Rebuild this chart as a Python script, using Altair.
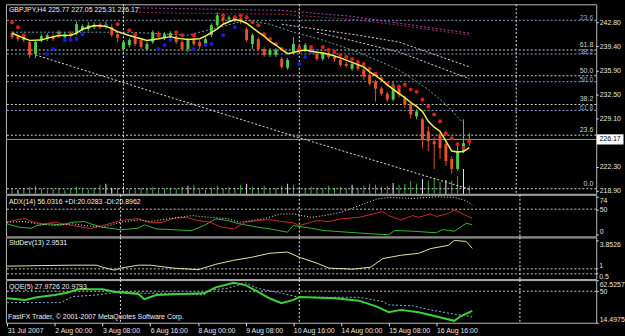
import altair as alt
import pandas as pd

FONT = "Liberation Sans"
WIDTH = 595
H_MAIN, H_ADX, H_SD, H_QQE = 191, 42, 42, 43
X_DOMAIN = [-0.2, 98.8]

# ---------------- text ----------------
title_main = "GBPJPY,H4 225.77 227.05 225.31 226.17"
title_adx = "ADX(14) 56.0316 +DI:20.0283 -DI:20.8962"
title_sd = "StdDev(13) 2.9531"
title_qqe = "QQE(5) 27.9726 20.9793"
copyright_txt = "FastFX Trader, \u00a9 2001-2007 MetaQuotes Software Corp."

time_ticks = [0, 8, 16, 24, 32, 40, 48, 56, 64, 72]
time_labels = ["31 Jul 2007", "2 Aug 00:00", "3 Aug 08:00", "6 Aug 16:00", "8 Aug 00:00",
               "9 Aug 08:00", "10 Aug 16:00", "14 Aug 00:00", "15 Aug 08:00", "16 Aug 16:00"]

price_ticks = [242.80, 239.40, 235.90, 232.50, 229.10, 222.30, 218.90]
adx_ticks = [74, 50, 0]
sd_ticks = [3.8526]
sd_levels = [1, 0.5]
sd_level_text = ["1", "0.5"]
qqe_ticks = [62.5257, 50, 14.4975]

# ---------------- OHLC (H4 bars) ----------------
opens = [241.25, 240.83, 240.27, 239.99, 238.30, 240.27, 240.41, 240.83, 240.83, 240.69,
         241.25, 241.25, 241.82, 241.82, 242.10, 242.52, 242.10, 242.10, 241.11, 239.00,
         239.57, 240.69, 240.27, 239.00, 239.99, 241.25, 240.55, 240.83, 240.83, 239.99,
         239.00, 240.27, 239.99, 239.57, 240.97, 242.38, 243.50, 243.22, 243.08, 243.36,
         241.82, 239.71, 240.41, 239.00, 238.16, 238.16, 237.60, 236.33, 238.58, 239.42,
         238.86, 239.14, 238.58, 237.60, 238.30, 237.88, 237.46, 236.89, 236.19, 236.75,
         236.05, 235.35, 234.36, 233.38, 232.67, 231.83, 233.66, 232.11, 231.13, 229.44,
         229.02, 227.33, 225.92, 226.91, 225.50, 223.39, 221.98, 224.52, 225.77]
highs = [241.53, 241.11, 240.97, 240.27, 240.27, 241.11, 241.25, 241.11, 241.68, 241.39,
         241.53, 242.94, 242.52, 242.80, 242.80, 242.80, 242.94, 242.52, 241.39, 240.27,
         240.55, 240.97, 240.55, 239.99, 241.68, 241.53, 241.39, 241.53, 241.11, 240.27,
         240.55, 240.55, 240.27, 240.69, 242.66, 244.21, 243.93, 243.78, 243.78, 243.64,
         242.10, 241.25, 240.69, 239.28, 239.14, 239.14, 237.88, 237.74, 240.69, 239.71,
         239.85, 239.42, 238.86, 238.58, 238.58, 238.16, 237.74, 237.17, 237.17, 237.03,
         236.33, 235.63, 234.64, 233.66, 232.95, 234.36, 233.94, 232.39, 231.41, 230.42,
         229.30, 228.03, 226.49, 227.33, 225.92, 223.81, 225.64, 229.02, 227.05]
lows = [240.41, 240.13, 239.99, 237.74, 237.74, 239.99, 240.13, 240.13, 240.55, 240.41,
        240.55, 240.97, 241.53, 241.53, 241.82, 241.82, 241.82, 240.69, 239.99, 238.72,
        239.28, 239.42, 239.00, 238.72, 239.71, 240.55, 240.27, 240.55, 239.71, 238.72,
        238.58, 239.42, 239.00, 239.28, 240.69, 242.10, 242.66, 242.94, 242.80, 242.52,
        239.99, 239.00, 238.72, 237.88, 237.88, 237.88, 236.19, 236.05, 238.30, 238.72,
        238.58, 238.30, 237.31, 237.31, 237.60, 237.17, 236.47, 236.33, 235.91, 235.91,
        234.64, 233.80, 231.55, 232.39, 231.55, 231.55, 232.11, 230.70, 229.16, 229.02,
        224.94, 224.52, 221.98, 223.39, 222.41, 221.28, 221.70, 224.23, 225.31]
closes = [240.69, 240.41, 240.69, 238.16, 239.99, 240.83, 240.97, 240.41, 241.39, 241.11,
          240.83, 242.52, 242.24, 242.38, 242.38, 242.10, 242.52, 240.97, 240.55, 239.99,
          240.27, 239.71, 239.28, 239.71, 241.39, 240.83, 241.11, 241.25, 239.99, 239.00,
          240.27, 239.71, 239.42, 240.41, 242.38, 243.78, 243.08, 243.50, 243.50, 242.94,
          240.27, 240.97, 239.00, 238.16, 238.86, 238.86, 236.47, 237.46, 239.71, 239.00,
          239.57, 238.72, 237.60, 238.30, 237.88, 237.60, 236.75, 236.61, 236.89, 236.19,
          235.06, 234.08, 233.38, 232.67, 231.83, 233.94, 232.53, 231.13, 229.72, 230.14,
          226.20, 225.92, 225.50, 224.94, 223.11, 221.98, 224.52, 225.64, 226.17]

# tick volume (bar heights) and highlight flag
volume = [5, 4, 6, 7, 8, 5, 4, 5, 6, 4, 5, 7, 5, 4, 6, 9, 10, 6, 6, 8,
          5, 4, 6, 5, 7, 4, 5, 6, 5, 7, 8, 9, 5, 4, 6, 8, 5, 7, 6, 9,
          10, 7, 6, 8, 5, 6, 8, 10, 9, 6, 5, 7, 6, 5, 8, 6, 7, 5, 9, 6,
          8, 10, 9, 7, 8, 11, 9, 10, 13, 10, 15, 13, 16, 12, 14, 13, 18, 25, 8]
volume_white = [0, 1, 0, 0, 0, 0, 0, 0, 0, 0, 0, 0, 0, 0, 0, 0, 1, 1, 0, 0,
                0, 0, 0, 0, 0, 0, 0, 0, 0, 0, 1, 0, 0, 0, 0, 0, 0, 0, 0, 0,
                1, 0, 0, 0, 0, 0, 0, 1, 0, 0, 0, 0, 0, 0, 0, 0, 0, 0, 1, 0,
                0, 0, 0, 0, 0, 1, 0, 0, 0, 0, 1, 0, 0, 0, 1, 0, 0, 1, 0]

# ---------------- main-window overlays ----------------
ma_bars = [0, 2, 3, 5, 6, 8, 10, 11, 12, 14, 16, 17, 18, 20, 22, 23, 25, 27, 28, 30,
           32, 33, 35, 36, 37, 38, 39, 40, 41, 42, 43, 44, 45, 46, 47, 48, 49, 50, 51, 52,
           53, 54, 55, 56, 58, 60, 61, 62, 63, 64, 66, 67, 68, 69, 70, 71, 72, 73, 74, 75,
           76, 77, 78]
ma_vals = [241.25, 240.55, 240.23, 240.27, 240.55, 240.93, 240.97, 241.25, 241.82, 242.34,
           242.24, 241.89, 241.47, 240.93, 240.46, 240.23, 240.46, 240.76, 240.55, 240.37,
           240.46, 240.83, 241.86, 242.52, 242.87, 243.18, 243.01, 242.66, 242.03, 241.39,
           240.83, 240.08, 239.57, 238.93, 238.35, 238.52, 238.72, 238.86, 238.68, 238.54,
           238.44, 238.27, 238.02, 237.74, 237.10, 236.47, 235.77, 235.21, 234.64, 233.90,
           232.67, 232.11, 231.41, 230.85, 230.14, 228.74, 227.90, 227.33, 225.92, 224.52,
           224.38, 224.45, 225.01]

red_bars = [0, 1, 2, 8, 18, 20, 21, 25, 28, 29, 31, 36, 38, 39, 40, 41, 42, 43, 44, 45,
            46, 49, 51, 53, 54, 55, 56, 57, 58, 59, 60, 61, 62, 63, 64, 65, 66, 67, 68, 69,
            70, 71, 72, 73, 74, 75, 76, 77, 78]
red_vals = [242.80, 242.10, 240.97, 240.97, 242.52, 241.68, 241.11, 240.97, 241.39, 240.97,
            240.97, 243.78, 243.50, 243.78, 243.50, 242.80, 242.38, 241.11, 240.41, 239.71,
            239.00, 239.00, 239.28, 239.28, 238.86, 238.58, 238.16, 237.88, 237.60, 237.17,
            236.89, 236.19, 235.49, 234.78, 234.08, 233.66, 233.66, 233.94, 233.24, 232.95,
            231.83, 230.85, 229.72, 228.74, 227.05, 226.34, 225.50, 224.94, 225.92]

blue_bars = [6, 7, 9, 10, 11, 12, 16, 25, 26, 27, 31, 33, 34, 36, 38, 49, 50, 51, 52]
blue_vals = [238.30, 239.00, 240.27, 240.27, 240.41, 241.11, 242.24, 239.00, 239.57, 240.27,
             239.00, 239.57, 239.71, 240.97, 242.10, 236.89, 237.88, 238.58, 238.58]

cyan_bars = [0, 10, 20, 30, 36, 40, 44, 48, 53, 59, 66, 71, 74, 77]
cyan_vals = [241.39, 241.39, 241.39, 240.97, 242.24, 243.08, 242.52, 241.39, 240.27, 238.58,
             236.05, 233.24, 231.13, 228.46]

env1_bars = [46, 59, 66, 78]
env1_vals = [242.52, 240.97, 239.99, 236.47]
env2_bars = [52, 59, 66, 78]
env2_vals = [241.39, 239.99, 238.58, 234.78]

slow1_bars = [21, 25, 46, 58, 66, 78]
slow1_vals = [244.86, 244.79, 244.49, 243.64, 242.66, 241.25]
slow2_bars = [21, 25, 46, 58, 66, 78]
slow2_vals = [244.21, 244.14, 243.93, 243.22, 242.38, 240.97]

diag_bars = [4, 49, 78]
diag_vals = [238.16, 226.40, 219.10]

fib_w_levels = ["0.0", "23.6", "38.2", "50.0", "61.8"]
fib_w_prices = [219.17, 226.77, 231.13, 235.21, 238.86]
fib_b_levels = ["23.6", "38.2", "50.0", "61.8"]
fib_b_prices = [243.08, 238.30, 234.36, 230.28]

sep_bars = [19, 49, 86]

# ---------------- indicators ----------------
adx_bars = [0, 3, 5, 8, 11, 13, 16, 19, 22, 24, 27, 31, 34, 37, 39, 43, 46, 48, 51, 53,
            56, 59, 62, 64, 68, 72, 75, 77, 78]
adx_vals = [24.6, 26.0, 21.5, 18.3, 21.5, 18.3, 15.0, 24.6, 29.2, 26.0, 31.2, 37.5, 34.2,
            31.2, 24.6, 31.2, 40.8, 40.8, 34.2, 37.5, 43.8, 56.7, 69.6, 72.7, 70.8, 74.0,
            72.7, 66.3, 58.0]
pdi_bars = [0, 2, 4, 5, 7, 9, 11, 13, 14, 16, 18, 19, 22, 23, 25, 28, 31, 33, 35, 37,
            39, 42, 44, 47, 48, 51, 53, 57, 61, 64, 65, 68, 72, 73, 75, 77, 78]
pdi_vals = [21.5, 15.0, 13.1, 18.3, 21.5, 19.6, 24.6, 26.0, 21.5, 15.0, 11.9, 10.0, 13.1,
            19.6, 11.9, 10.0, 8.7, 18.3, 31.2, 27.9, 21.5, 15.0, 11.9, 5.4, 18.3, 13.1, 8.7,
            5.4, 2.3, 0.4, 8.7, 7.3, 4.2, 10.6, 7.3, 22.7, 20.0]
mdi_bars = [0, 1, 3, 4, 6, 8, 11, 14, 16, 18, 19, 22, 24, 26, 28, 30, 32, 34, 36, 38,
            40, 42, 44, 46, 48, 49, 52, 54, 56, 59, 63, 64, 66, 68, 69, 71, 72, 74, 75, 77, 78]
mdi_vals = [24.6, 27.9, 32.3, 26.0, 21.5, 24.6, 18.3, 12.5, 18.3, 24.6, 27.9, 31.7, 23.5,
            24.6, 32.3, 34.2, 27.9, 24.6, 15.0, 11.9, 24.6, 27.9, 29.8, 26.0, 23.5, 18.3,
            27.9, 26.0, 31.2, 34.2, 45.2, 37.5, 29.2, 37.5, 34.2, 40.8, 35.6, 41.9, 48.5,
            37.5, 32.3]

sd_bars = [0, 5, 11, 15, 16, 18, 19, 22, 24, 28, 32, 35, 38, 41, 44, 47, 49, 52, 54, 58,
           61, 63, 66, 69, 71, 74, 75, 77, 78]
sd_vals = [1.27, 1.32, 1.37, 1.37, 1.17, 0.87, 1.07, 1.37, 1.37, 1.07, 0.92, 1.46, 1.86,
           2.16, 2.56, 2.69, 2.16, 1.56, 1.07, 0.97, 1.17, 2.03, 2.36, 2.56, 3.03, 3.36,
           3.85, 3.75, 3.05]

qqe_bars = [0, 3, 5, 8, 10, 12, 16, 18, 22, 23, 25, 29, 33, 35, 38, 40, 42, 44, 46, 48,
            49, 55, 59, 62, 64, 66, 69, 72, 75, 76, 78]
qqe_vals = [42.1, 40.2, 43.2, 45.8, 48.3, 52.1, 52.1, 49.5, 46.9, 41.0, 45.8, 46.9, 47.7,
            54.4, 59.5, 56.9, 49.5, 42.1, 36.5, 40.2, 43.5, 42.1, 39.4, 32.7, 26.4, 29.0,
            26.4, 21.5, 16.7, 21.5, 27.97]
qqes_bars = [0, 9, 11, 15, 19, 23, 28, 33, 34, 37, 40, 42, 46, 49, 59, 63, 64, 68, 71, 75, 77, 78]
qqes_vals = [37.2, 37.2, 43.9, 45.8, 49.5, 47.7, 47.7, 45.8, 51.4, 53.3, 59.5, 53.3, 47.7,
             43.2, 43.2, 38.3, 34.6, 33.5, 29.0, 24.2, 22.3, 20.98]

# ---------------- styles ----------------
UP = "#52c852"
DN = "#e8502a"
AX = "#e6e6e6"
RED_DOT = "#e01e1e"
BLUE_DOT = "#1c1cd0"
YEL = "#f2f24a"
CYAN = "#62aaaa"
ENV = "#dcdcdc"
DIAG = "#e6e6c4"
PURP = "#a848c0"
MAROON = "#a02c4c"
FIBW = "#d4d4d4"
FIBB = "#86a4d6"
VOLG = "#3cb43c"
LEVEL = "#c8c8c8"

xs = alt.Scale(domain=X_DOMAIN, nice=False, zero=False)
label_expr = "[" + ",".join("'" + t + "'" for t in time_labels) + "][round(datum.value/8)]"
X_AXIS = alt.Axis(values=time_ticks, labelExpr=label_expr, title=None, grid=False, domain=False,
                  ticks=True, tickSize=3, tickColor=AX, labelColor=AX, labelFont=FONT,
                  labelFontSize=7, labelPadding=1, labelAlign="left", labelOverlap=False,
                  labelFlush=False)


def ldf(bars, vals):
    return pd.DataFrame({"i": bars, "v": vals})


def yaxis(values, fmt=None, flush=False):
    kw = dict(orient="right", values=values, title=None, grid=False,
              domain=False, ticks=True, tickSize=2, tickColor=AX, labelColor=AX,
              labelFont=FONT, labelFontSize=7, labelPadding=1, labelFlush=flush,
              labelOverlap=False)
    if fmt:
        kw["format"] = fmt
    else:
        kw["labelExpr"] = "'' + datum.value"
    return alt.Axis(**kw)


def label(txt, x, y):
    return alt.Chart(pd.DataFrame({"t": [txt]})).mark_text(
        align="left", baseline="middle", color="#f0f0f0", font=FONT, fontSize=7
    ).encode(x=alt.value(x), y=alt.value(y), text="t:N")


class Panel:
    """Shared x / y encodings of one window (same axis object for every layer)."""

    def __init__(self, domain, axis, x_axis=None):
        self.ys = alt.Scale(domain=domain, nice=False, zero=False)
        self.axis = axis
        self.x_axis = x_axis

    def x(self):
        return alt.X("i:Q", scale=xs, axis=self.x_axis)

    def y(self, field):
        return alt.Y(field, type="quantitative", scale=self.ys, axis=self.axis)

    def line(self, bars, vals, color, dash=(2, 2), width=1.0):
        mk = dict(color=color, strokeWidth=width)
        if dash:
            mk["strokeDash"] = list(dash)
        return alt.Chart(ldf(bars, vals)).mark_line(**mk).encode(x=self.x(), y=self.y("v"))

    def levels(self, vals):
        return alt.Chart(pd.DataFrame({"v": vals})).mark_rule(
            color=LEVEL, strokeDash=[2, 2]).encode(y=self.y("v"))

    def seps(self):
        return alt.Chart(pd.DataFrame({"i": sep_bars})).mark_rule(
            color="#e8e8e8", strokeDash=[2, 2], strokeWidth=1).encode(x=self.x())


# ================= main window =================
M = Panel([218.45, 245.35], yaxis(price_ticks, ".2f"))

cdf = pd.DataFrame({"i": list(range(len(opens))), "o": opens, "h": highs, "l": lows, "c": closes})
candle_color = alt.condition("datum.c >= datum.o", alt.value(UP), alt.value(DN))

fibw = pd.DataFrame({"p": fib_w_prices, "t": fib_w_levels})
fibb = pd.DataFrame({"p": fib_b_prices, "t": fib_b_levels})
last = pd.DataFrame({"p": [closes[-1]]})

fib_w_rule = alt.Chart(fibw).mark_rule(color=FIBW, strokeDash=[2, 2]).encode(y=M.y("p"))
fib_b_rule = alt.Chart(fibb).mark_rule(color=FIBB, strokeDash=[2, 2]).encode(y=M.y("p"))
fib_w_txt = alt.Chart(fibw).mark_text(color=FIBW, align="right", baseline="bottom", dy=-2,
                                      font=FONT, fontSize=7).encode(
    x=alt.value(592), y=M.y("p"), text="t:N")
fib_b_txt = alt.Chart(fibb).mark_text(color=FIBB, align="right", baseline="bottom", dy=1,
                                      font=FONT, fontSize=7).encode(
    x=alt.value(592), y=M.y("p"), text="t:N")

bid_line = alt.Chart(last).mark_rule(color="#9c9c9c").encode(y=M.y("p"))

wicks = alt.Chart(cdf).mark_rule(strokeWidth=1).encode(
    x=M.x(), y=M.y("l"), y2="h:Q", color=candle_color)
bodies = alt.Chart(cdf).mark_bar(size=3, orient="vertical").encode(
    x=M.x(), y=M.y("o"), y2="c:Q", color=candle_color)

red_dots = alt.Chart(ldf(red_bars, red_vals)).mark_circle(size=16, color=RED_DOT, opacity=1).encode(
    x=M.x(), y=M.y("v"))
blue_dots = alt.Chart(ldf(blue_bars, blue_vals)).mark_circle(size=16, color=BLUE_DOT, opacity=1).encode(
    x=M.x(), y=M.y("v"))

price_box = alt.Chart(last).mark_point(
    shape="M-1,-0.38L1,-0.38L1,0.38L-1,0.38Z", filled=True, color="white", opacity=1,
    size=729, strokeWidth=0).encode(x=alt.value(609), y=M.y("p"))
price_txt = alt.Chart(last).mark_text(color="black", font=FONT, fontSize=7, align="center",
                                      baseline="middle").encode(
    x=alt.value(609), y=M.y("p"), text=alt.Text("p:Q", format=".2f"))

price_layers = alt.layer(
    fib_w_rule, fib_b_rule, M.seps(), bid_line,
    M.line(slow1_bars, slow1_vals, PURP), M.line(slow2_bars, slow2_vals, MAROON),
    M.line(diag_bars, diag_vals, DIAG), M.line(cyan_bars, cyan_vals, CYAN),
    M.line(env1_bars, env1_vals, ENV), M.line(env2_bars, env2_vals, ENV),
    wicks, bodies, red_dots, blue_dots,
    M.line(ma_bars, ma_vals, YEL, dash=None, width=1.5),
    fib_w_txt, fib_b_txt, price_box, price_txt,
    label(title_main, 3, 6),
)

vdf = pd.DataFrame({"i": list(range(len(volume))), "vol": volume, "w": volume_white})
vol_layer = alt.Chart(vdf).mark_bar(size=1, orient="vertical").encode(
    x=M.x(),
    y=alt.Y("vol:Q", scale=alt.Scale(domain=[0, H_MAIN], nice=False), axis=None),
    color=alt.condition("datum.w == 1", alt.value("#e8e8e8"), alt.value(VOLG)))

main = alt.layer(vol_layer, price_layers).resolve_scale(y="independent").properties(
    width=WIDTH, height=H_MAIN)

# ================= ADX =================
A = Panel([-2.9, 77.9], yaxis(adx_ticks, flush=4))
adx = alt.layer(
    A.levels([50]), A.seps(),
    A.line(pdi_bars, pdi_vals, "#30b830", dash=None),
    A.line(mdi_bars, mdi_vals, "#c42c2c", dash=None),
    A.line(adx_bars, adx_vals, "#eeeed2", dash=(1, 2)),
    label(title_adx, 3, 7),
).properties(width=WIDTH, height=H_ADX)

# ================= StdDev =================
S = Panel([-0.028, 4.151], yaxis(sd_ticks, flush=4))
sd_lv = pd.DataFrame({"v": sd_levels, "t": sd_level_text})
sd_lv_ticks = alt.Chart(sd_lv).mark_rule(color=AX).encode(
    x=alt.value(WIDTH), x2=alt.value(WIDTH + 2), y=S.y("v"))
sd_lv_one = alt.Chart(sd_lv[sd_lv.v == 1]).mark_text(
    color=AX, font=FONT, fontSize=7, align="left", baseline="bottom", dy=0).encode(
    x=alt.value(WIDTH + 3), y=S.y("v"), text="t:N")
sd_lv_half = alt.Chart(sd_lv[sd_lv.v == 0.5]).mark_text(
    color=AX, font=FONT, fontSize=7, align="left", baseline="top", dy=-1).encode(
    x=alt.value(WIDTH + 3), y=S.y("v"), text="t:N")
sd = alt.layer(
    S.levels(sd_levels), S.seps(),
    S.line(sd_bars, sd_vals, "#e4e4a6", dash=None),
    sd_lv_ticks, sd_lv_one, sd_lv_half,
    label(title_sd, 3, 6),
).properties(width=WIDTH, height=H_SD)

# ================= QQE =================
Q = Panel([14.4975, 62.5257], yaxis(qqe_ticks, flush=4), x_axis=X_AXIS)
qqe = alt.layer(
    Q.levels([50]), Q.seps(),
    Q.line(qqes_bars, qqes_vals, "#8cb6dc", dash=(2, 2)),
    Q.line(qqe_bars, qqe_vals, "#3cd23c", dash=None, width=2),
    label(title_qqe, 3, 7),
    label(copyright_txt, 2, 37),
).properties(width=WIDTH, height=H_QQE)

chart = alt.vconcat(main, adx, sd, qqe, spacing=1, bounds="flush").configure(
    background="black",
    padding={"left": 2, "top": 2, "right": 0, "bottom": 0},
    font=FONT,
).configure_view(stroke="#b8b8b8", strokeWidth=1, fill="black")

chart.save("out.html", embed_options={"renderer": "svg", "actions": False})
